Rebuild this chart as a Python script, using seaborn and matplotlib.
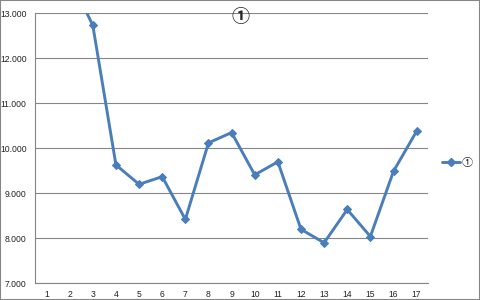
import matplotlib
matplotlib.use("Agg")
import matplotlib.pyplot as plt
import seaborn as sns
import pandas as pd
import numpy as np
from matplotlib.patches import Rectangle
from matplotlib.lines import Line2D

categories = [str(i) for i in range(1, 18)]
values = [14.5, 13.8, 12.73, 9.63, 9.20, 9.37, 8.42, 10.12, 10.35,
          9.41, 9.70, 8.20, 7.90, 8.64, 8.04, 9.49, 10.38]
series_name = "①"
y_ticks = [7, 8, 9, 10, 11, 12, 13]

sns.set_theme(style="white")
plt.rcParams['font.family'] = ['Liberation Sans', 'Noto Sans CJK JP']

df = pd.DataFrame({"cat": categories, "val": values, "series": series_name})

fig = plt.figure(figsize=(4.8, 3.0), dpi=100)
ax = fig.add_axes([35/480, 1-283.3/300, (428.2-35)/480, (283.3-13.3)/300])

color = "#4A7EBB"
sns.lineplot(data=df, x="cat", y="val", hue="series", palette=[color], ax=ax,
             marker="D", markersize=4.5, linewidth=2.1, markeredgecolor=color,
             sort=False, legend=False)

ax.set_ylim(7, 13)
ax.set_xlim(-0.5, 16.5)
ax.set_yticks(y_ticks)
ax.set_yticklabels([f"{v:.3f}" for v in y_ticks])
ax.set_xticks(range(len(categories)))
ax.set_xticklabels(categories)
ax.set_xticks(np.arange(-0.5, 17, 1), minor=True)
ax.tick_params(axis="x", which="major", length=0, labelsize=6.2, pad=5, colors="#222222")
ax.tick_params(axis="x", which="minor", length=4, width=0.8, color="#868686", direction="out")
ax.tick_params(axis="y", which="major", length=4, width=0.8, color="#868686", direction="out",
               labelsize=6.2, pad=2, labelcolor="#222222")
ax.set_xlabel("")
ax.set_ylabel("")
ax.grid(axis="y", color="#868686", linewidth=0.8)
ax.set_axisbelow(True)
for s in ["top", "right"]:
    ax.spines[s].set_visible(False)
for s in ["left", "bottom"]:
    ax.spines[s].set_color("#868686")
    ax.spines[s].set_linewidth(0.8)

h = [Line2D([0], [0], color=color, lw=2.1, marker="D", markersize=4.5)]
fig.legend(h, [series_name], loc="center left", bbox_to_anchor=(442/480, 1-163/300),
           frameon=False, handlelength=1.6, handletextpad=0.2, borderpad=0, borderaxespad=0,
           prop={"family": ["Noto Sans CJK JP", "DejaVu Sans"], "size": 8})

fig.text(0.5, 1-17/300, series_name, ha="center", va="center", fontsize=13,
         family=["Noto Sans CJK JP", "DejaVu Sans"], fontweight="bold")

fig.patches.append(Rectangle((0, 0), 1, 1, transform=fig.transFigure, fill=False,
                             edgecolor="#868686", linewidth=1.5))

fig.savefig("out.png", dpi=100)
